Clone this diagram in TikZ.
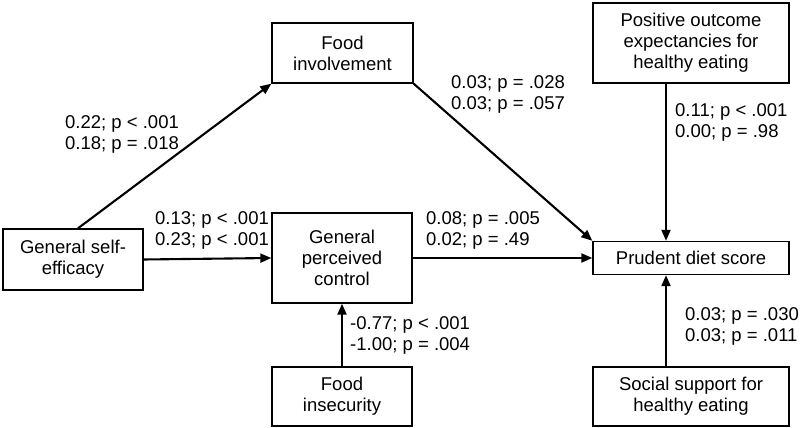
\documentclass[tikz,border=0pt]{standalone}
\usepackage{fontspec}
\setmainfont{Liberation Sans}
\usetikzlibrary{arrows.meta}

\begin{document}
\begin{tikzpicture}[x=1pt,y=1pt,
  varbox/.style={draw=black,line width=1.4pt,align=center,inner sep=2pt,
    font=\fontsize{18.5}{21}\selectfont},
  coef/.style={align=left,anchor=base west,inner sep=0pt,
    font=\fontsize{18.5}{21}\selectfont},
  path/.style={color=black,line width=2.1pt,-{Triangle[length=11pt,width=9pt]}}]
\useasboundingbox (0,0) rectangle (800,428);

\node[varbox,minimum width=141pt,minimum height=60pt] (involve) at (342.5,375) {Food\\involvement};
\node[varbox,minimum width=196pt,minimum height=80pt] (outcome) at (691,385) {Positive outcome\\expectancies for\\healthy eating};
\node[varbox,minimum width=140pt,minimum height=61pt] (efficacy) at (73,168.5) {General self-\\efficacy};
\node[varbox,minimum width=140pt,minimum height=90pt] (control) at (342,170) {General\\perceived\\control};
\node[varbox,minimum width=140pt,minimum height=59pt] (insecure) at (342,31.5) {Food\\insecurity};
\node[varbox,minimum width=196pt,minimum height=33pt] (prudent) at (691,170) {Prudent diet score};
\node[varbox,minimum width=196pt,minimum height=59pt] (support) at (691,31.5) {Social support for\\healthy eating};

\draw[path] ([xshift=5pt]efficacy.north) -- (involve.south west);
\draw[path] (efficacy.east) -- (control.west);
\draw[path] (control.east) -- (prudent.west);
\draw[path] (involve.south east) -- (prudent.north west);
\draw[path] ([xshift=-25pt]outcome.south) -- ([xshift=-25pt]prudent.north);
\draw[path] ([xshift=-25pt]support.north) -- ([xshift=-25pt]prudent.south);
\draw[path] (insecure.north) -- (control.south);

% base anchor sits on the last line
\node[coef] (c1) at (65,278) {0.22; p < .001\\0.18; p = .018};
\node[coef] (c2) at (155,182) {0.13; p < .001\\0.23; p < .001};
\node[coef] (c3) at (451,318) {0.03; p = .028\\0.03; p = .057};
\node[coef] (c4) at (675,290) {0.11; p < .001\\0.00; p = .98};
\node[coef] (c5) at (426,182) {0.08; p = .005\\0.02; p = .49};
\node[coef] (c6) at (350,77) {-0.77; p < .001\\-1.00; p = .004};
\node[coef] (c7) at (685,86) {0.03; p = .030\\0.03; p = .011};
\end{tikzpicture}
\end{document}
